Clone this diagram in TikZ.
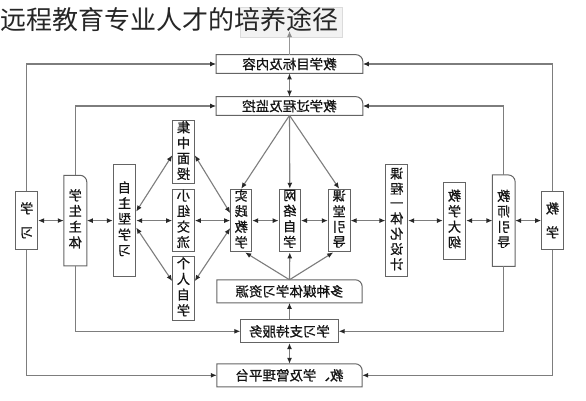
\documentclass[tikz,border=0pt]{standalone}
\usepackage{fontspec}
\usepackage{graphicx}
\newfontfamily\cjk{Noto Sans CJK SC}
\newfontfamily\cjkm[FakeBold=0.7]{Noto Sans CJK SC}
\usetikzlibrary{arrows.meta,calc}
\definecolor{linec}{RGB}{125,125,125}
\definecolor{boxc}{RGB}{100,100,100}
\definecolor{tipc}{RGB}{40,40,40}
\definecolor{txtc}{RGB}{20,20,20}
\newcommand{\vtx}[2]{\reflectbox{\fontsize{13.2}{#1}\selectfont\begin{tabular}{@{}c@{}}#2\end{tabular}}}
\newcommand{\hmir}[1]{\reflectbox{#1}}
\newcommand{\rtrbox}[1]{\draw[boxline] (#1.south west) -- (#1.north west) -- ([xshift=-7pt]#1.north east) arc[start angle=90,end angle=0,radius=7pt] -- (#1.south east) -- cycle;}
\tikzset{
  tb/.style={inner sep=0pt, text=txtc, font=\cjkm\fontsize{13.5}{15}\selectfont},
  pbox/.style={tb, draw=boxc, line width=1pt},
  boxline/.style={draw=boxc, line width=1pt},
  conn/.style={draw=linec, line width=1.1pt, -{Latex[length=6pt,width=5pt,color=tipc]}},
  both/.style={draw=linec, line width=1.1pt, {Latex[length=6pt,width=5pt,color=tipc]}-{Latex[length=6pt,width=5pt,color=tipc]}}
}
\begin{document}
\begin{tikzpicture}[x=1pt,y=1pt]
\useasboundingbox (0,0) rectangle (586,-400);
\fill[white] (0,0) rectangle (586,-400);
% faint box behind title end
\draw[fill=black!5, draw=black!14] (240,-7) rectangle (342,-37);
\node[anchor=west, inner sep=0pt, font=\cjk\fontsize{26}{28}\selectfont, text=black!85] (title) at (0.5,-20) {远程教育专业人才的培养途径};

% horizontal boxes
\node[tb, minimum width=146.3pt, minimum height=18.3pt] (mubiao) at (289.5,-64) {\hmir{教学目标及内容}};
\node[tb, minimum width=146.3pt, minimum height=18.3pt] (jiankong) at (289.5,-106) {\hmir{教学过程及监控}};
\node[tb, minimum width=145pt, minimum height=22.7pt] (meiti) at (289.5,-291.3) {\hmir{多种媒体学习资源}};
\node[pbox, minimum width=97.3pt, minimum height=22.7pt] (zhichi) at (289.5,-331.3) {\hmir{学习支持服务}};
\node[tb, minimum width=145pt, minimum height=22.7pt] (pingtai) at (289.5,-375.3) {\hmir{教、学及管理平台}};
\rtrbox{mubiao}
\rtrbox{jiankong}
\rtrbox{meiti}
\rtrbox{pingtai}

% vertical boxes
\node[pbox, minimum width=21.7pt, minimum height=58.3pt] (xuexi) at (26.7,-220.6) {\vtx{24}{学\\习}};
\node[tb, minimum width=22.7pt, minimum height=90.3pt] (xszt) at (75.3,-220.6) {\vtx{15.5}{学\\生\\主\\体}};
\rtrbox{xszt}
\node[pbox, minimum width=22.4pt, minimum height=112.4pt] (zzxx) at (124.5,-220.6) {\vtx{15.5}{自\\主\\型\\学\\习}};
\node[pbox, minimum width=21.6pt, minimum height=63.3pt] (jzms) at (183.5,-152.3) {\vtx{15.2}{集\\中\\面\\授}};
\node[pbox, minimum width=21.6pt, minimum height=60.7pt] (xzjl) at (183.5,-220.6) {\vtx{14.7}{小\\组\\交\\流}};
\node[pbox, minimum width=21.6pt, minimum height=63.8pt] (grzx) at (183.5,-288.6) {\vtx{15.2}{个\\人\\自\\学}};
\node[pbox, minimum width=21pt, minimum height=62.7pt] (sjjx) at (241.2,-220.6) {\vtx{14.7}{实\\践\\教\\学}};
\node[pbox, minimum width=21.4pt, minimum height=62.7pt] (wlzx) at (289.8,-220.6) {\vtx{14.7}{网\\络\\自\\学}};
\node[pbox, minimum width=21.7pt, minimum height=62.7pt] (ktyd) at (339.2,-220.6) {\vtx{14.7}{课\\堂\\引\\导}};
\node[pbox, minimum width=21.7pt, minimum height=112.4pt] (kcyt) at (396.8,-220.6) {\vtx{14.3}{课\\程\\一\\体\\化\\设\\计}};
\node[pbox, minimum width=22.4pt, minimum height=77pt] (jxdg) at (454.5,-220.6) {\vtx{14.7}{教\\学\\大\\纲}};
\node[tb, minimum width=22.3pt, minimum height=91pt] (jsyd) at (503.8,-220.6) {\vtx{15}{教\\师\\引\\导}};
\rtrbox{jsyd}
\node[pbox, minimum width=21.6pt, minimum height=58.3pt] (jx) at (552.5,-220.6) {\vtx{24}{教\\学}};

% title arrow
\coordinate (ttop) at (289.5,-31);
\draw[draw=linec!80, line width=1.1pt, -{Latex[length=6pt,width=5pt,color=linec!90]}] (mubiao.north) -- (ttop);

% outer and inner frames
\draw[conn] (xuexi.north) |- (mubiao.west);
\draw[conn] (jx.north) |- (mubiao.east);
\draw[conn] (xuexi.south) |- (pingtai.west);
\draw[conn] (jx.south) |- (pingtai.east);
\draw[conn] (xszt.north) |- (jiankong.west);
\draw[conn] (jsyd.north) |- (jiankong.east);
\draw[conn] (xszt.south) |- (zhichi.west);
\draw[conn] (jsyd.south) |- (zhichi.east);

% central vertical
\draw[both] (mubiao.south) -- (jiankong.north);
\draw[conn] (zhichi.north) -- (meiti.south);
\draw[both] (zhichi.south) -- (pingtai.north);

% fans
\draw[conn] (jiankong.south) -- (sjjx.north);
\draw[conn] (jiankong.south) -- (wlzx.north);
\draw[conn] (jiankong.south) -- (ktyd.north);
\draw[conn] (meiti.north) -- ([xshift=4pt]sjjx.south);
\draw[conn] (meiti.north) -- (wlzx.south);
\draw[conn] (meiti.north) -- ([xshift=-6pt]ktyd.south);

% row arrows
\draw[both] (xuexi.east) -- (xszt.west);
\draw[both] (xszt.east) -- (zzxx.west);
\draw[both] (zzxx.east) -- (xzjl.west);
\draw[both] (xzjl.east) -- (sjjx.west);
\draw[both] (sjjx.east) -- (wlzx.west);
\draw[both] (wlzx.east) -- (ktyd.west);
\draw[both] (ktyd.east) -- (kcyt.west);
\draw[both] (kcyt.east) -- (jxdg.west);
\draw[both] (jxdg.east) -- (jsyd.west);
\draw[both] (jsyd.east) -- (jx.west);

% diagonals
\draw[both] ([yshift=9pt]zzxx.east) -- ([yshift=-3pt]jzms.west);
\draw[both] ([yshift=-7pt]zzxx.east) -- ([yshift=7.5pt]grzx.west);
\draw[both] ([yshift=-3pt]jzms.east) -- ([yshift=7.5pt]sjjx.west);
\draw[both] ([yshift=7.5pt]grzx.east) -- ([yshift=-7.5pt]sjjx.west);
\end{tikzpicture}
\end{document}
